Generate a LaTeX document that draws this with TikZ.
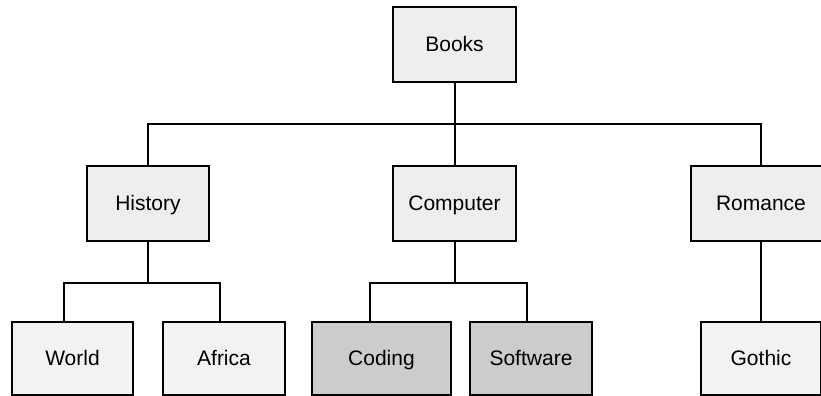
\documentclass[tikz,border=0pt]{standalone}
\usepackage{fontspec}
\setmainfont{Liberation Sans}
\usetikzlibrary{positioning}
\definecolor{boxgray}{HTML}{EEEEEE}
\definecolor{leafgray}{HTML}{F2F2F2}
\definecolor{darkgray}{HTML}{CCCCCC}

\begin{document}
\begin{tikzpicture}[x=0.5pt,y=-0.5pt,
  box/.style={draw,line width=1pt,fill=boxgray,font=\fontsize{10.5}{12}\selectfont,text height=0.716em,text depth=0pt,minimum width=61.5pt,minimum height=37.5pt,inner sep=0pt},
  leaf/.style={box,fill=leafgray,minimum height=36.5pt},
  pick/.style={leaf,fill=darkgray},
  link/.style={line width=1pt}]
\useasboundingbox (0,0) rectangle (821,396);
\clip (0,0) rectangle (821,396);
\node[box] (books) at (454.5,44.5) {Books};
\node[box,minimum width=61pt] (history) at (148,203.5) {History};
\node[box] (computer) at (454.5,203.5) {Computer};
\node[box,minimum width=70pt] (romance) at (761,203.5) {Romance};
\node[leaf,minimum width=60.5pt] (world) at (72.5,358.5) {World};
\node[leaf,minimum width=61pt] (africa) at (224,358.5) {Africa};
\node[pick,minimum width=69.5pt] (coding) at (381.5,358.5) {Coding};
\node[pick,minimum width=61pt] (software) at (531,358.5) {Software};
\node[leaf,minimum width=60pt] (gothic) at (761,358.5) {Gothic};
% bus lines
\coordinate (top) at (0,124);
\coordinate (low) at (0,283);
\draw[link] (books.south) -- (computer.north);
\draw[link] (history.north) |- (romance.north |- top) -- (romance.north);
\draw[link] (history.south) -- (history.south |- low);
\draw[link] ([xshift=-4.25pt]world.north) |- ([xshift=-2pt]africa.north |- low) -- ([xshift=-2pt]africa.north);
\draw[link] (computer.south) -- (computer.south |- low);
\draw[link] ([xshift=-5.75pt]coding.north) |- ([xshift=-2pt]software.north |- low) -- ([xshift=-2pt]software.north);
\draw[link] (romance.south) -- (gothic.north);
\end{tikzpicture}
\end{document}
